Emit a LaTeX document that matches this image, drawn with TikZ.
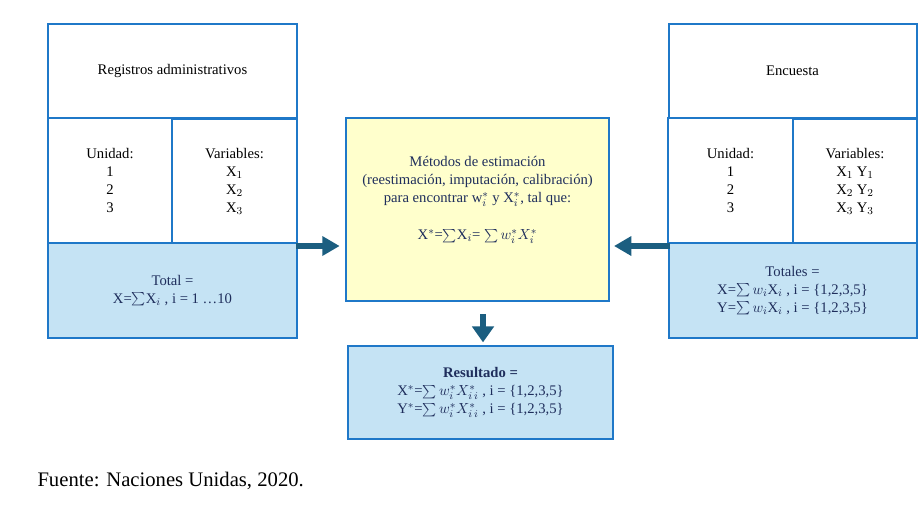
\documentclass[tikz,border=0pt]{standalone}
\usepackage{fontspec}
\setmainfont{Liberation Serif}
\usetikzlibrary{arrows.meta}
\definecolor{boxblue}{RGB}{31,120,200}
\definecolor{fillblue}{RGB}{197,227,244}
\definecolor{fillyellow}{RGB}{255,255,204}
\definecolor{arrowteal}{RGB}{27,94,128}
\definecolor{textnavy}{RGB}{31,46,92}
\tikzset{every picture/.style={line width=0.75pt}}
\tikzset{
  box/.style={draw=boxblue, line width=1.5pt, fill=white, align=center, inner sep=0pt, font=\fontsize{11}{13.5}\selectfont},
  totbox/.style={box, fill=fillblue, text=textnavy},
  metbox/.style={box, fill=fillyellow, text=textnavy},
  bigarrow/.style={draw=arrowteal, line width=4.5pt, -{Triangle[width=14pt,length=13pt]}},
}

\begin{document}
\begin{tikzpicture}[x=0.75pt,y=0.75pt,yscale=-1,xscale=1]
\useasboundingbox (0,0) rectangle (919,526);

%Registros administrativos
\node [box, minimum width=186.75pt, minimum height=70.5pt] (regtop) at (172.5,71) {Registros administrativos};
\node [box, minimum width=93pt, minimum height=93.75pt] (reguni) at (110,180.5) {Unidad:\\1\\2\\3};
\node [box, minimum width=93.75pt, minimum height=93.75pt] (regvar) at (234.5,181.5) {Variables:\\X$_1$\\X$_2$\\X$_3$};
\node [totbox, minimum width=186.75pt, minimum height=71.25pt] (regtot) at (172.5,290.5) {Total =\\X=$\sum$X$_i$ , i = 1 \dots10};

%Encuesta
\node [box, minimum width=186pt, minimum height=70.5pt] (enctop) at (792.5,71) {Encuesta};
\node [box, minimum width=93.75pt, minimum height=93.75pt] (encuni) at (730.5,180.5) {Unidad:\\1\\2\\3};
\node [box, minimum width=93pt, minimum height=93.75pt] (encvar) at (855,181.5) {Variables:\\X$_1$ Y$_1$\\X$_2$ Y$_2$\\X$_3$ Y$_3$};
\node [totbox, minimum width=186pt, minimum height=71.25pt] (enctot) at (792.5,290.5) {Totales =\\X=$\sum w_i$X$_i$ , i = \{1,2,3,5\}\\Y=$\sum w_i$X$_i$ , i = \{1,2,3,5\}};

%Metodos de estimacion
\node [metbox, minimum width=197.25pt, minimum height=137.25pt] (metodo) at (477.5,209.5) {};
\node [text=textnavy, align=center, inner sep=0pt, font=\fontsize{11}{13.5}\selectfont] (metodotxt) at (477.5,200) {M\'etodos de estimaci\'on\\(reestimaci\'on, imputaci\'on, calibraci\'on)\\para encontrar w$_i^*$ y X$_i^*$, tal que:\\[14pt]X$^*$=$\sum$X$_i$= $\sum w_i^* X_i^*$};

%Resultado
\node [totbox, minimum width=198.75pt, minimum height=69.75pt] (result) at (480.5,392.5) {\textbf{Resultado =}\\X$^*$=$\sum w_i^* X^*_{i\,i}$ , i = \{1,2,3,5\}\\Y$^*$=$\sum w_i^* X^*_{i\,i}$ , i = \{1,2,3,5\}};

%Arrows
\coordinate (la) at (296,246);
\coordinate (ra) at (670,246);
\coordinate (da) at (483,0);
\draw [bigarrow, shorten >=4pt] (la) -- (la -| metodo.west);
\draw [bigarrow, shorten >=3pt] (ra) -- (ra -| metodo.east);
\draw [bigarrow, shorten <=9pt, shorten >=2pt, -{Triangle[width=16pt,length=12pt]}] (metodo.south -| da) -- (result.north -| da);

% Text Node
\node [anchor=west, inner sep=0pt, font=\fontsize{15.5}{18}\selectfont] (fuente) at (37,481) {Fuente: Naciones Unidas, 2020.};

\end{tikzpicture}
\end{document}
